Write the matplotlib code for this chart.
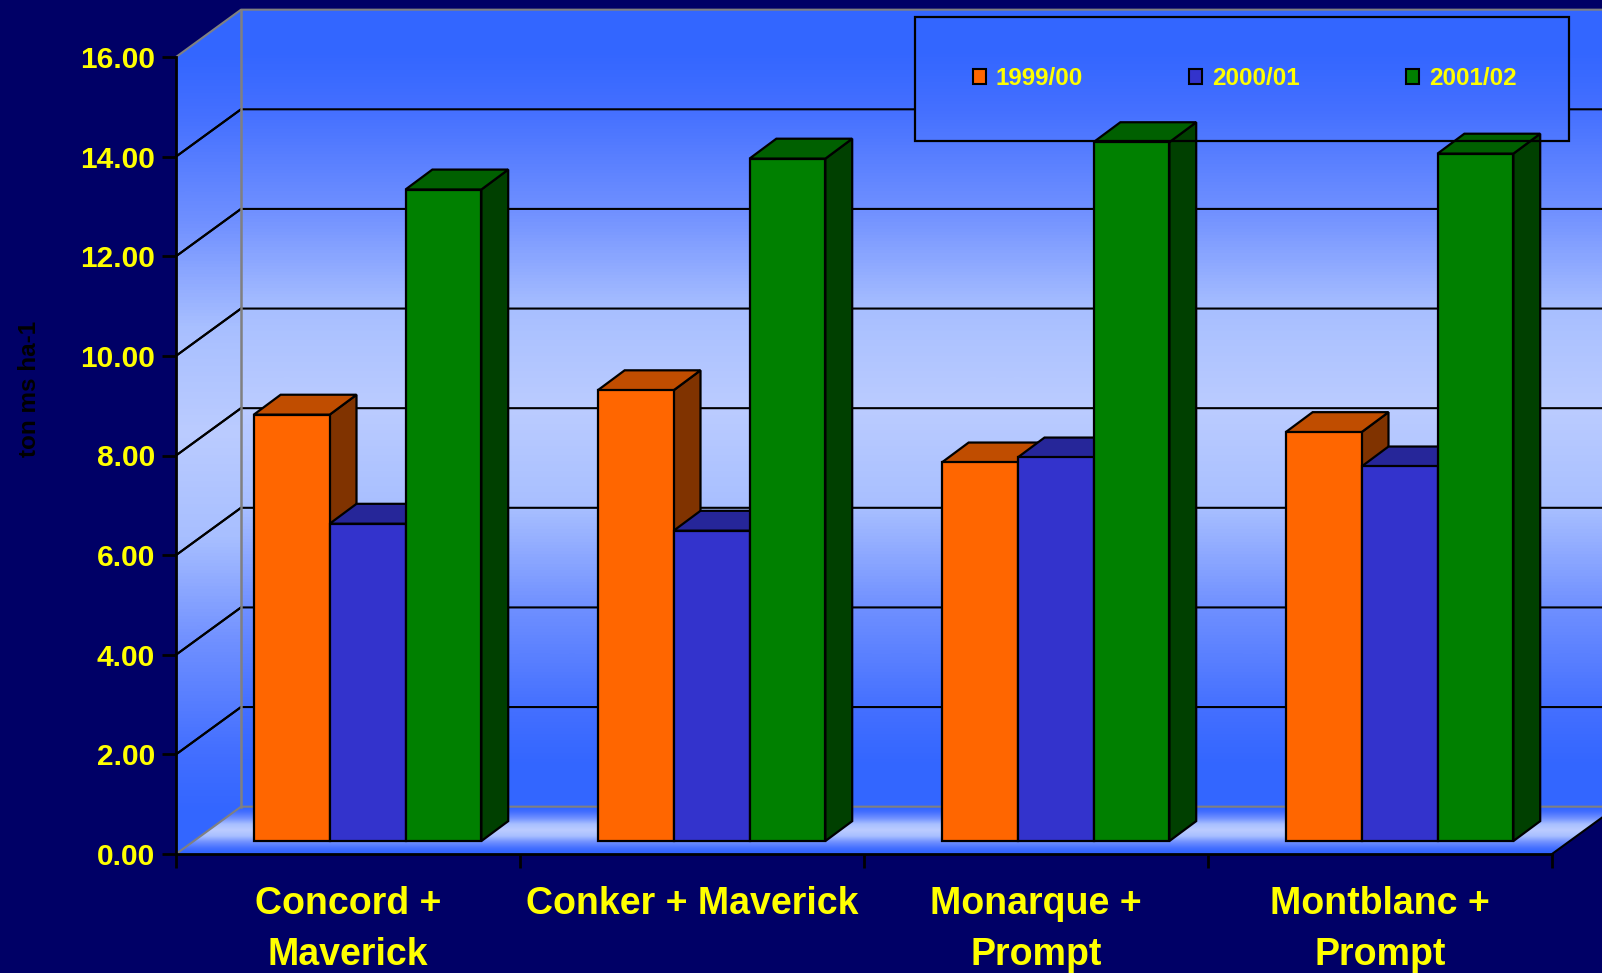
import numpy as np
import matplotlib
matplotlib.use('Agg')
import matplotlib.pyplot as plt
from matplotlib.colors import LinearSegmentedColormap
from matplotlib.patches import Polygon, Rectangle, Patch

# data
categories = ['Concord +\nMaverick', 'Conker + Maverick', 'Monarque +\nPrompt', 'Montblanc +\nPrompt']
seasons = ['1999/00', '2000/01', '2001/02']
yield_9900 = [8.56, 9.05, 7.60, 8.21]
yield_0001 = [6.37, 6.23, 7.70, 7.52]
yield_0102 = [13.08, 13.70, 14.03, 13.80]
y_ticks = [0, 2, 4, 6, 8, 10, 12, 14, 16]

# colours of each series: front, top, side
front_cols = ['#FF6600', '#3333CC', '#008000']
top_cols = ['#C04D00', '#262699', '#006000']
side_cols = ['#803300', '#1A1A66', '#004000']
navy = '#000066'
yellow = '#FFFF00'
grey = '#808080'

# 3d look, in data units
wall_dx = 65 / 344.0
wall_dy = 0.95
bar_dx = 0.078
bar_dy = 0.40
bar_base = 0.26
bar_w = 0.2205
bar_start = 0.2262
x_max = len(categories)
y_max = 16

plt.rcParams['font.family'] = ['Liberation Sans', 'DejaVu Sans']
plt.rcParams['font.weight'] = 'bold'

fig = plt.figure(figsize=(16.02, 9.73), dpi=100, facecolor=navy)
ax = fig.add_axes([176 / 1602, 119 / 973, 1376 / 1602, 797 / 973])
ax.patch.set_visible(False)

cmap = LinearSegmentedColormap.from_list('wall', [
    (0.0, '#3366FF'), (0.05, '#3366FF'), (0.125, '#4570FF'), (0.25, '#7090FF'),
    (0.375, '#A8BFFF'), (0.5, '#BBCCFF'), (0.625, '#A8BFFF'), (0.75, '#7090FF'),
    (0.875, '#4570FF'), (0.95, '#3366FF'), (1.0, '#3366FF')])


def shaded(y0, y1, clip, z):
    # vertical gradient, cut to the clip polygon
    g = np.linspace(0, 1, 256).reshape(-1, 1)
    im = ax.imshow(g, cmap=cmap, aspect='auto', origin='lower', zorder=z,
                   extent=[-0.1, x_max + 0.5, y0, y1], interpolation='bilinear')
    im.set_clip_box(fig.bbox)
    clip.set_transform(ax.transData)
    im.set_clip_path(clip)


def poly(pts, fc, z):
    ax.add_patch(Polygon(pts, closed=True, facecolor=fc, edgecolor='black',
                         linewidth=1.6, joinstyle='miter', zorder=z, clip_on=False))


top_back = y_max + wall_dy
right_back = x_max + wall_dx

# back wall
shaded(wall_dy, top_back, Polygon([(wall_dx, wall_dy), (right_back, wall_dy),
                                   (right_back, top_back), (wall_dx, top_back)]), 0.1)
# grid lines on back and side wall
for t in y_ticks[1:-1]:
    ax.plot([0, wall_dx, right_back], [t, t + wall_dy, t + wall_dy], color='black',
            lw=1.5, zorder=0.5, clip_on=False)

# side wall
shaded(0, top_back, Polygon([(0, 0), (wall_dx, wall_dy), (wall_dx, top_back), (0, y_max)]), 0.3)
for t in y_ticks[1:-1]:
    ax.plot([0, wall_dx], [t, t + wall_dy], color='black', lw=1.5, zorder=0.5, clip_on=False)

# floor
shaded(0, wall_dy, Polygon([(0, 0), (x_max, 0), (right_back, wall_dy), (wall_dx, wall_dy)]), 0.4)
ax.plot([x_max, right_back], [0, wall_dy], color='black', lw=1.5, zorder=0.6, clip_on=False)

# wall edges
ax.plot([0, wall_dx, right_back], [y_max, top_back, top_back], color=grey, lw=1.5, zorder=0.7, clip_on=False)
ax.plot([wall_dx, wall_dx], [wall_dy, top_back], color=grey, lw=1.8, zorder=0.7, clip_on=False)
ax.plot([0, wall_dx, right_back], [0, wall_dy, wall_dy], color=grey, lw=1.5, zorder=0.7, clip_on=False)

# legend sits on the wall and hides the grid line, bars stay in front of it
leg_x0, leg_x1, leg_y0, leg_y1 = 2.148, 4.05, 14.32, 16.81
shaded(wall_dy, top_back, Rectangle((leg_x0, leg_y0), leg_x1 - leg_x0, leg_y1 - leg_y0), 0.8)
ax.add_patch(Rectangle((leg_x0, leg_y0), leg_x1 - leg_x0, leg_y1 - leg_y0, facecolor='none',
                       edgecolor='black', linewidth=1.6, zorder=7, clip_on=False))

# bars, left to right so the next bar covers the side of the one before
series = [yield_9900, yield_0001, yield_0102]
z = 1.0
for c in range(len(categories)):
    for s, vals in enumerate(series):
        x0 = c + bar_start + s * bar_w
        x1 = x0 + bar_w
        top = vals[c] + bar_base
        poly([(x1, bar_base), (x1 + bar_dx, bar_base + bar_dy), (x1 + bar_dx, top + bar_dy), (x1, top)], side_cols[s], z)
        poly([(x0, top), (x1, top), (x1 + bar_dx, top + bar_dy), (x0 + bar_dx, top + bar_dy)], top_cols[s], z)
        ax.bar(x0, vals[c], bar_w, bottom=bar_base, align='edge', color=front_cols[s],
               edgecolor='black', linewidth=1.6, zorder=z + 0.01)
        z += 0.05

ax.set_xlim(0, x_max)
ax.set_ylim(0, y_max)

for sp in ['top', 'right']:
    ax.spines[sp].set_visible(False)
for sp in ['left', 'bottom']:
    ax.spines[sp].set_linewidth(2)
    ax.spines[sp].set_color('black')
    ax.spines[sp].set_zorder(6)

ax.set_yticks(y_ticks)
ax.set_yticklabels(['%.2f' % t for t in y_ticks], fontsize=21.5, color=yellow, fontweight='bold')
ax.tick_params(axis='y', length=10, width=2, color='black', pad=5)
ax.set_xticks(range(x_max + 1))
ax.set_xticklabels([])
ax.tick_params(axis='x', which='major', length=10, width=2, color='black')
ax.set_xticks([i + 0.5 for i in range(x_max)], minor=True)
ax.set_xticklabels(categories, minor=True, fontsize=27, color=yellow, fontweight='bold', linespacing=1.52)
ax.tick_params(axis='x', which='minor', length=0, pad=23)

fig.text(29 / 1602, 1 - 389 / 973, 'ton ms ha-1', rotation=90, color='black', fontsize=17.5,
         fontweight='bold', ha='center', va='center')

# legend
handles = [Patch(facecolor=front_cols[i], edgecolor='black', linewidth=1.5) for i in range(3)]
leg = ax.legend(handles, seasons, ncol=3, loc='center',
                bbox_to_anchor=(((leg_x0 + leg_x1) / 2 + 0.0075) / x_max, (leg_y0 + leg_y1) / 2 / y_max),
                labelcolor=yellow, frameon=False, handlelength=0.55, handleheight=0.6,
                handletextpad=0.4, columnspacing=4.4, prop={'weight': 'bold', 'size': 17.4})
leg.set_zorder(8)

fig.savefig('out.png', dpi=100)
